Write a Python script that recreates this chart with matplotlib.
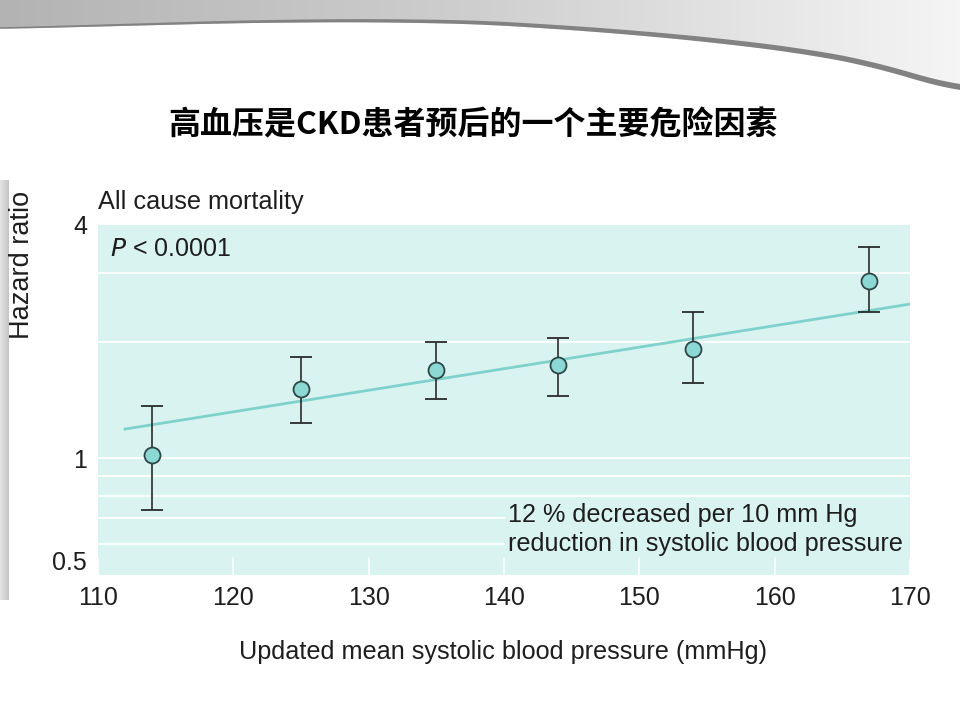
import numpy as np
import matplotlib
matplotlib.use("Agg")
from matplotlib import pyplot as plt
from matplotlib.patches import Polygon, Rectangle
from matplotlib.colors import LinearSegmentedColormap

# Daten
sbp = [114, 125, 135, 144, 154, 167]
hr = [1.02, 1.51, 1.69, 1.74, 1.92, 2.87]
hr_low = [0.736, 1.23, 1.42, 1.45, 1.56, 2.39]
hr_high = [1.365, 1.83, 2.00, 2.04, 2.39, 3.52]
trend_x = [112, 170]
trend_y = [1.19, 2.50]

y_ticks = [0.5, 1, 4]
y_ticklabels = ["0.5", "1", "4"]
x_ticks = [110, 120, 130, 140, 150, 160, 170]
grid_y = [0.6, 0.7, 0.8, 0.9, 1, 2, 3]

title = "高血压是CKD患者预后的一个主要危险因素"
panel_title = "All cause mortality"
note = "12 % decreased per 10 mm Hg\nreduction in systolic blood pressure"
xlabel = "Updated mean systolic blood pressure (mmHg)"
ylabel = "Hazard ratio"

bg_col = "#d9f3f0"
dot_col = "#8bd8d4"
line_col = "#7fd2cc"
text_col = "#1e1e1e"
sans = ["Liberation Sans", "DejaVu Sans"]

fig = plt.figure(figsize=(9.6, 7.2), dpi=100)

# Folienhintergrund: grauer Bogen oben, Streifen links
deco = fig.add_axes([0, 0, 1, 1], zorder=-5)
deco.set_xlim(0, 960)
deco.set_ylim(720, 0)
deco.axis("off")
cx = np.linspace(0, 960, 300)
cy = np.interp(cx, [0, 120, 240, 360, 480, 600, 700, 800, 880, 960],
               [29, 26, 23, 22, 24, 32, 41, 53, 68, 94])
cy = np.convolve(np.r_[np.full(15, cy[0]), cy, np.full(15, cy[-1])],
                 np.ones(31) / 31, mode="valid")
top_cmap = LinearSegmentedColormap.from_list("top", ["#b3b3b3", "#cfcfcf", "#f5f5f5"])
grad = np.linspace(0, 1, 256).reshape(1, -1)
img = deco.imshow(grad, extent=[0, 960, 100, 0], cmap=top_cmap, aspect="auto", zorder=-4)
clip = Polygon(np.column_stack([np.r_[cx, 960, 0], np.r_[cy, 0, 0]]), closed=True,
               transform=deco.transData)
img.set_clip_path(clip)
thick = np.linspace(1.5, 6, cx.size)
deco.fill_between(cx, cy - thick, cy, color="#828282", lw=0, zorder=-3)
side_cmap = LinearSegmentedColormap.from_list("side", ["#e4e4e4", "#c4c4c4"])
deco.imshow(np.linspace(0, 1, 50).reshape(1, -1), extent=[0, 9, 600, 180],
            cmap=side_cmap, aspect="auto", zorder=-4)

fig.text(0.493, 1 - 125 / 720, title, ha="center", va="center", fontsize=23,
         fontweight="bold", family=["Noto Sans CJK SC", "DejaVu Sans"], color="black")

ax = fig.add_axes([98 / 960, 1 - 575 / 720, 812 / 960, 350 / 720])
ax.set_facecolor(bg_col)
for s in ax.spines.values():
    s.set_visible(False)
ax.set_yscale("log")
ax.set_xlim(110, 170)
ax.set_ylim(0.5, 4)

for g in grid_y:
    ax.axhline(g, color="white", lw=1.3, zorder=1)

ax.plot(trend_x, trend_y, color=line_col, lw=2, zorder=2)
yerr = [np.array(hr) - np.array(hr_low), np.array(hr_high) - np.array(hr)]
ax.errorbar(sbp, hr, yerr=yerr, fmt="o", ms=11.5, mfc=dot_col, mec="#2e4646", mew=1.3,
            ecolor="#2b2b2b", elinewidth=1.2, capsize=8, capthick=1.2, zorder=4)

ax.set_yticks(y_ticks)
ax.set_yticklabels(y_ticklabels)
ax.yaxis.set_minor_locator(matplotlib.ticker.NullLocator())
ax.set_xticks(x_ticks)
ax.tick_params(axis="y", length=0, pad=8, labelsize=18, labelcolor=text_col)
ax.tick_params(axis="x", direction="in", length=12, width=1.2, color="white",
               pad=8, labelsize=18, labelcolor=text_col)
for lab in ax.get_xticklabels() + ax.get_yticklabels():
    lab.set_family(sans)
ax.get_yticklabels()[0].set_verticalalignment("bottom")

ax.text(0.0, 1.03, panel_title, transform=ax.transAxes, ha="left", va="bottom",
        fontsize=18.2, family=sans, color=text_col)
ax.text(0.015, 0.93, r"$\mathit{P}$ < 0.0001", transform=ax.transAxes, ha="left",
        va="center", fontsize=18, family=sans, color=text_col)
# Hintergrund hinter dem Hinweistext
ax.add_patch(Rectangle((0.501, 0.049), 0.499, 0.163, transform=ax.transAxes,
                       facecolor=bg_col, edgecolor="none", zorder=3))
ax.text(0.505, 0.13, note, transform=ax.transAxes, ha="left", va="center",
        fontsize=18.2, family=sans, color=text_col, linespacing=1.3, zorder=5)

fig.text(503 / 960, 1 - 652 / 720, xlabel, ha="center", va="center", fontsize=18.2,
         family=sans, color=text_col)
fig.text(22 / 960, 1 - 265 / 720, ylabel, ha="center", va="center", rotation=90,
         fontsize=19.5, family=sans, color=text_col)

fig.savefig("out.png", dpi=100)
